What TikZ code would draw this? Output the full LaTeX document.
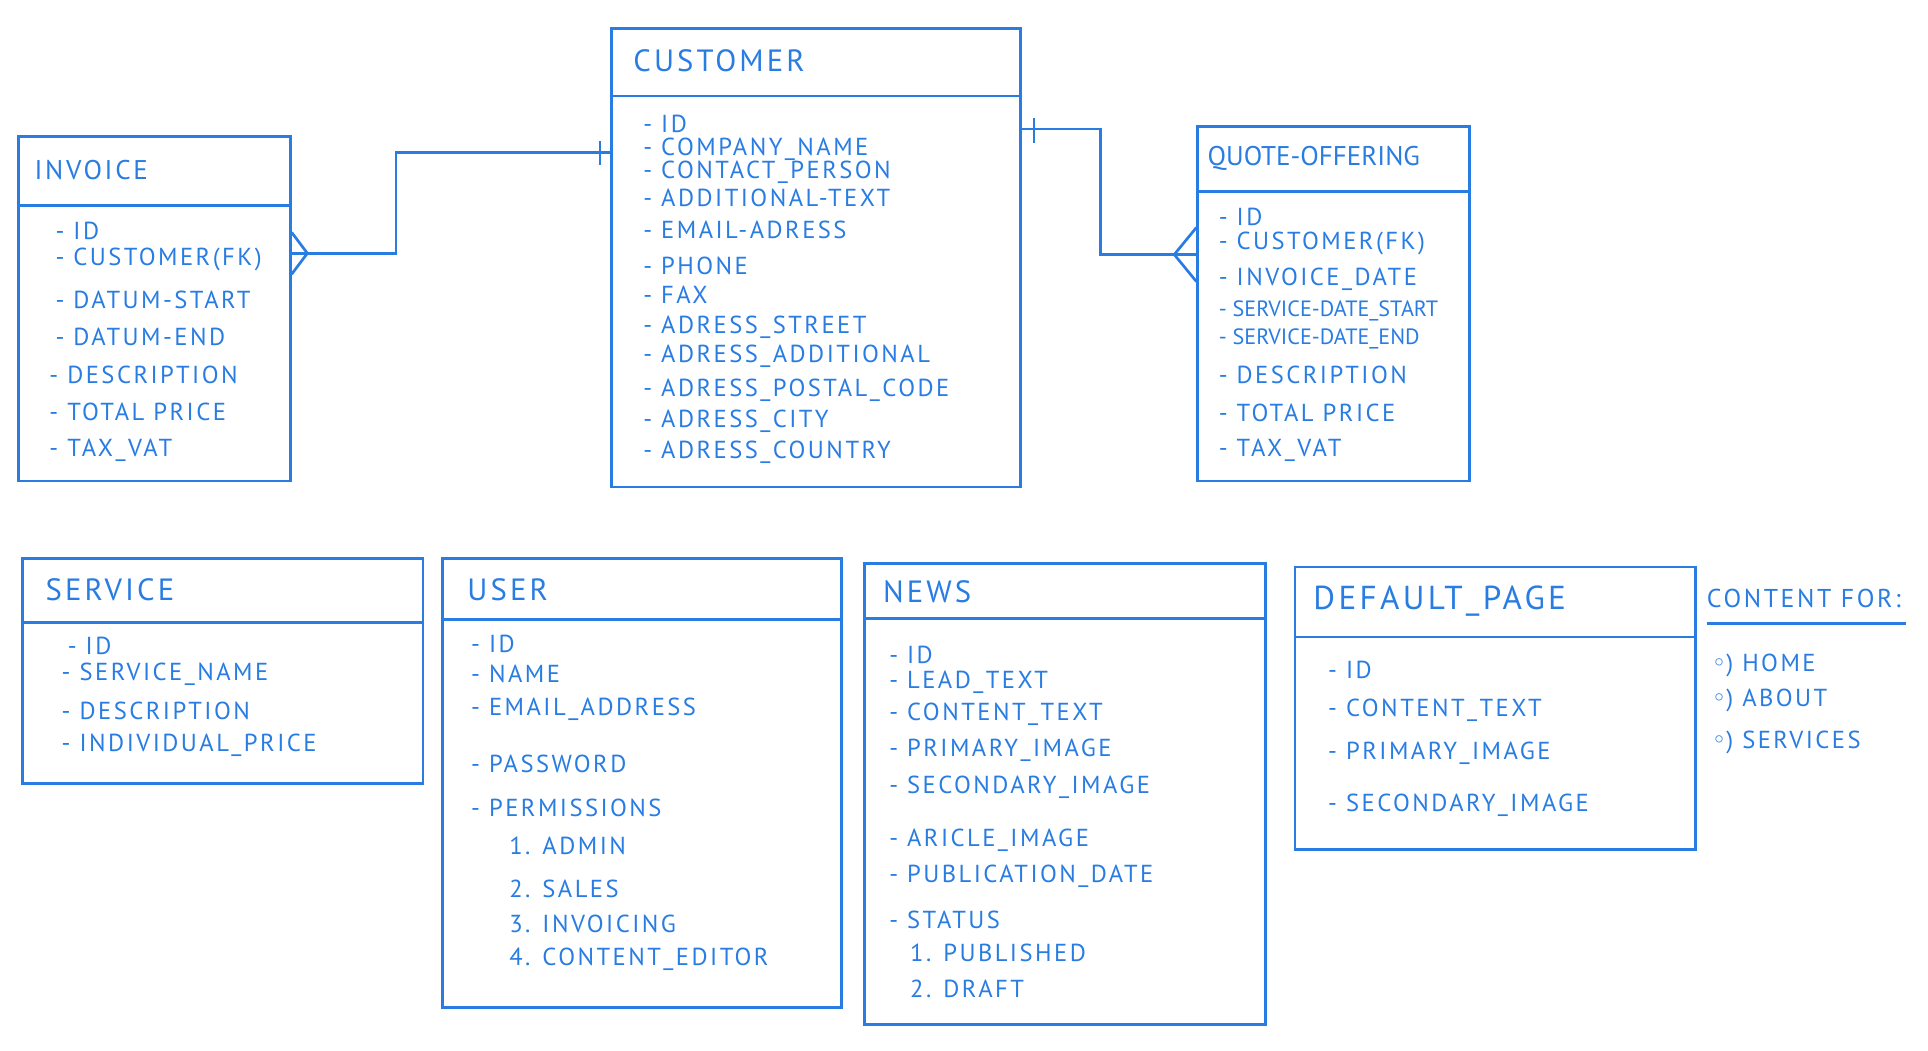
\documentclass[tikz,border=0pt]{standalone}
\usepackage{fontspec}
\setmainfont{PT Sans}[LetterSpace=10]
\newfontfamily\tightfont{PT Sans}
\newfontfamily\symfont{DejaVu Sans}
\definecolor{pen}{RGB}{40,124,226}

\begin{document}
\begin{tikzpicture}[x=1pt,y=-1pt,
  tablebox/.style={draw=pen,line width=2.2pt,anchor=north west,inner sep=0pt},
  title/.style={anchor=west,text=pen,inner sep=0pt,font=\fontsize{25}{29}\selectfont},
  field/.style={anchor=west,text=pen,inner sep=0pt,font=\fontsize{20}{24}\selectfont},
  smallfield/.style={field,font=\tightfont\fontsize{18}{21}\selectfont},
  rule/.style={draw=pen,line width=2.2pt},
  link/.style={draw=pen,line width=2.2pt}]
\useasboundingbox (0,0) rectangle (1568,854);

\node[tablebox,minimum width=221,minimum height=280] (invoice) at (14,110) {};
\draw[rule] (invoice.west |- 0,167) -- (invoice.east |- 0,167);
\node[title,font=\fontsize{22}{26}\selectfont] (invoice-title) at (28,138) {INVOICE};
\node[field] (inv-id) at (45,188) {- ID};
\node[field] (inv-cust) at (45,211) {- CUSTOMER(FK)};
\node[field] (inv-start) at (45,244) {- DATUM-START};
\node[field] (inv-end) at (45,274) {- DATUM-END};
\node[field] (inv-desc) at (40,305) {- DESCRIPTION};
\node[field] (inv-price) at (40,335) {- TOTAL PRICE};
\node[field] (inv-vat) at (40,366) {- TAX\_VAT};

\node[tablebox,minimum width=333,minimum height=373] (customer) at (496,22) {};
\draw[rule] (customer.west |- 0,78) -- (customer.east |- 0,78);
\node[title] (customer-title) at (515,49) {CUSTOMER};
\node[field] (cus-id) at (523,101) {- ID};
\node[field] (cus-company) at (523,121) {- COMPANY\_NAME};
\node[field] (cus-contact) at (523,140) {- CONTACT\_PERSON};
\node[field] (cus-text) at (523,161) {- ADDITIONAL-TEXT};
\node[field] (cus-email) at (523,187) {- EMAIL-ADRESS};
\node[field] (cus-phone) at (523,216) {- PHONE};
\node[field] (cus-fax) at (523,240) {- FAX};
\node[field] (cus-street) at (523,266) {- ADRESS\_STREET};
\node[field] (cus-additional) at (523,290) {- ADRESS\_ADDITIONAL};
\node[field] (cus-postal) at (523,317) {- ADRESS\_POSTAL\_CODE};
\node[field] (cus-city) at (523,343) {- ADRESS\_CITY};
\node[field] (cus-country) at (523,368) {- ADRESS\_COUNTRY};

\node[tablebox,minimum width=221,minimum height=288] (quote) at (973,102) {};
\draw[rule] (quote.west |- 0,156) -- (quote.east |- 0,156);
\node[title,font=\tightfont\fontsize{22}{26}\selectfont] (quote-title) at (982,129) {QUOTE-OFFERING};
\node[field] (quo-id) at (991,176) {- ID};
\node[field] (quo-cust) at (991,198) {- CUSTOMER(FK)};
\node[field] (quo-date) at (991,227) {- INVOICE\_DATE};
\node[smallfield] (quo-start) at (991,253) {- SERVICE-DATE\_START};
\node[smallfield] (quo-end) at (991,276) {- SERVICE-DATE\_END};
\node[field] (quo-desc) at (991,305) {- DESCRIPTION};
\node[field] (quo-price) at (991,336) {- TOTAL PRICE};
\node[field] (quo-vat) at (991,366) {- TAX\_VAT};

\draw[link] (invoice.east |- 0,206) -- (322,206) |- (customer.west |- 0,124);
\draw[link] (invoice.east |- 0,189) -- (250,206) -- (invoice.east |- 0,223);
\draw[link] (488,115) -- (488,134);
\draw[link] (customer.east |- 0,105) -- (895,105) |- (quote.west |- 0,207);
\draw[link] (quote.west |- 0,185) -- (955,207) -- (quote.west |- 0,229);
\draw[link] (841,96) -- (841,116);

\node[tablebox,minimum width=326,minimum height=183] (service) at (17,453) {};
\draw[rule] (service.west |- 0,506) -- (service.east |- 0,506);
\node[title] (service-title) at (37,480) {SERVICE};
\node[field] (ser-id) at (55,525) {- ID};
\node[field] (ser-name) at (50,548) {- SERVICE\_NAME};
\node[field] (ser-desc) at (50,578) {- DESCRIPTION};
\node[field] (ser-price) at (50,606) {- INDIVIDUAL\_PRICE};

\node[tablebox,minimum width=324,minimum height=365] (user) at (359,453) {};
\draw[rule] (user.west |- 0,504) -- (user.east |- 0,504);
\node[title] (user-title) at (380,480) {USER};
\node[field] (usr-id) at (383,524) {- ID};
\node[field] (usr-name) at (383,548) {- NAME};
\node[field] (usr-email) at (383,577) {- EMAIL\_ADDRESS};
\node[field] (usr-pass) at (383,621) {- PASSWORD};
\node[field] (usr-perm) at (383,657) {- PERMISSIONS};
\node[field] (usr-admin) at (414,688) {1. ADMIN};
\node[field] (usr-sales) at (414,723) {2. SALES};
\node[field] (usr-invoicing) at (414,751) {3. INVOICING};
\node[field] (usr-editor) at (414,780) {4. CONTENT\_EDITOR};

\node[tablebox,minimum width=326,minimum height=375] (news) at (702,457) {};
\draw[rule] (news.west |- 0,503) -- (news.east |- 0,503);
\node[title] (news-title) at (718,481) {NEWS};
\node[field] (new-id) at (723,533) {- ID};
\node[field] (new-lead) at (723,555) {- LEAD\_TEXT};
\node[field] (new-content) at (723,581) {- CONTENT\_TEXT};
\node[field] (new-primary) at (723,610) {- PRIMARY\_IMAGE};
\node[field] (new-secondary) at (723,640) {- SECONDARY\_IMAGE};
\node[field] (new-article) at (723,683) {- ARICLE\_IMAGE};
\node[field] (new-date) at (723,713) {- PUBLICATION\_DATE};
\node[field] (new-status) at (723,748) {- STATUS};
\node[field] (new-published) at (740,775) {1. PUBLISHED};
\node[field] (new-draft) at (740,804) {2. DRAFT};

\node[tablebox,minimum width=326,minimum height=230] (page) at (1052,460) {};
\draw[rule] (page.west |- 0,518) -- (page.east |- 0,518);
\node[title,font=\fontsize{27}{31}\selectfont] (page-title) at (1068,489) {DEFAULT\_PAGE};
\node[field] (pag-id) at (1080,545) {- ID};
\node[field] (pag-content) at (1080,578) {- CONTENT\_TEXT};
\node[field] (pag-primary) at (1080,613) {- PRIMARY\_IMAGE};
\node[field] (pag-secondary) at (1080,655) {- SECONDARY\_IMAGE};

\node[title,font=\fontsize{21}{25}\selectfont] (contentfor) at (1388,487) {CONTENT FOR:};
\draw[rule] (1388,507) -- (1550,507);
\node[field] (cf-home) at (1392,541) {{\symfont ◦}) HOME};
\node[field] (cf-about) at (1392,570) {{\symfont ◦}) ABOUT};
\node[field] (cf-services) at (1392,604) {{\symfont ◦}) SERVICES};
\end{tikzpicture}
\end{document}
